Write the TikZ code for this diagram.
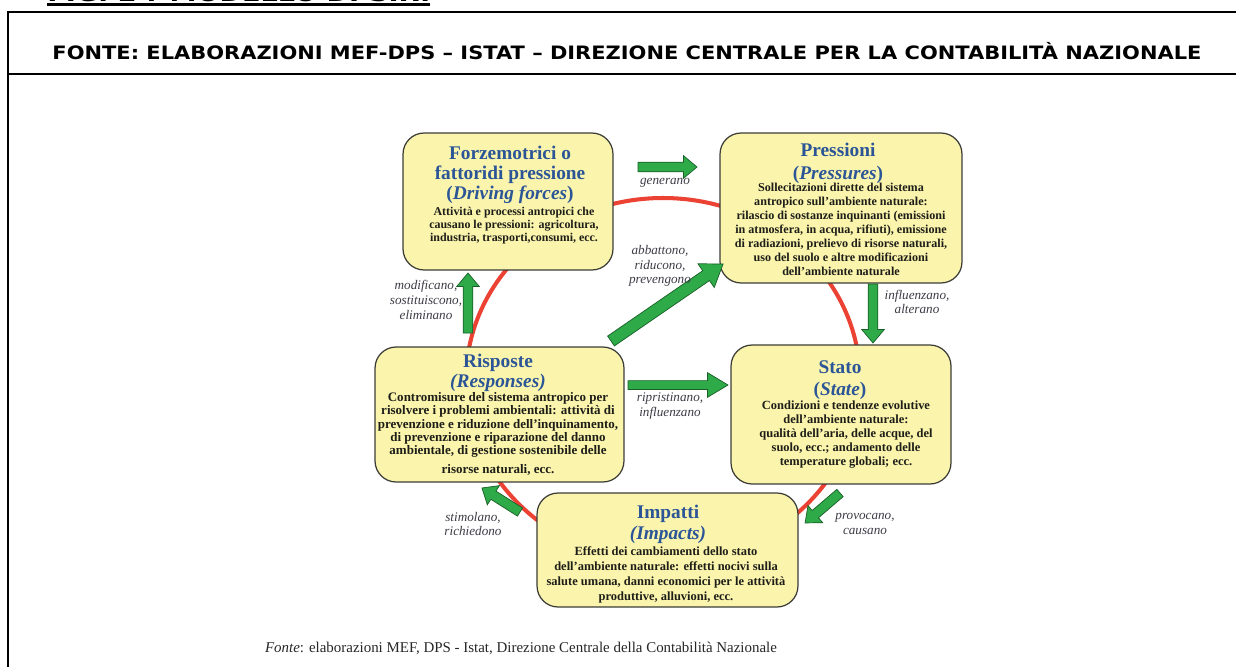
\documentclass[tikz,border=0pt]{standalone}
\usepackage{fontspec}
\setmainfont{Liberation Serif}
\newfontfamily\headfont{DejaVu Sans}
\usetikzlibrary{shapes.arrows}

\definecolor{boxfill}{RGB}{250,244,172}
\definecolor{boxedge}{RGB}{60,60,55}
\definecolor{titleblue}{RGB}{43,85,151}
\definecolor{ringred}{RGB}{236,66,52}
\definecolor{arrowgreen}{RGB}{46,170,72}
\definecolor{arrowedge}{RGB}{25,95,40}
\definecolor{labelgray}{RGB}{60,60,70}
\definecolor{bodyink}{RGB}{30,30,25}

\tikzset{
  stagebox/.style={draw=boxedge, fill=boxfill, line width=0.7pt,
    rounded corners=12pt, inner sep=0pt},
  stagetitle/.style={inner sep=0pt, align=center, anchor=north,
    text=titleblue, font=\bfseries\fontsize{11pt}{#1}\selectfont},
  stagebody/.style 2 args={inner sep=0pt, align=center, anchor=north,
    text=bodyink, font=\bfseries\fontsize{#1}{#2}\selectfont},
  verb/.style={inner sep=0pt, align=center, text=labelgray,
    font=\itshape\fontsize{7.5pt}{8.3pt}\selectfont},
  flowarrow/.style={single arrow, draw=arrowedge, fill=arrowgreen,
    line width=0.4pt, inner xsep=0pt, inner ysep=2.55pt, outer sep=0pt,
    single arrow head extend=3.7pt, single arrow tip angle=80, anchor=tail},
  ring/.style={draw=ringred, line width=2.3pt},
  frame/.style={draw=black, line width=1.2pt},
}

\begin{document}
\begin{tikzpicture}[x=0.02cm, y=-0.02cm]
\useasboundingbox (0,0) rectangle (1236,666);
\clip (0,0) rectangle (1236,666);
\fill[white] (0,0) rectangle (1236,666);

% page heading, mostly above the visible area
\node[anchor=base west, inner sep=0pt,
  font=\headfont\bfseries\fontsize{13pt}{13pt}\selectfont] (figtitle) at (47,1.5)
  {\resizebox{218pt}{\height}{FIG. 2 : MODELLO DPSIR.}};
\draw[frame] (47,4.5) -- (430,4.5);

% table frame
\draw[frame] (8,670) -- (8,12) -- (1240,12);
\draw[frame] (8,74) -- (1240,74);
\node[font=\headfont\bfseries\fontsize{10.5pt}{11pt}\selectfont, inner sep=0pt,
  anchor=base] (source) at (627,59)
  {\resizebox{654pt}{\height}{FONTE: ELABORAZIONI MEF-DPS – ISTAT – DIREZIONE CENTRALE PER LA CONTABILITÀ NAZIONALE}};

% cycle ring behind the stages
\draw[ring] (663,380) ellipse [x radius=197, y radius=182];

% stage boxes
\node[stagebox, minimum width=4.2cm, minimum height=2.74cm] (drv) at (508,201.5) {};
\node[stagebox, minimum width=4.84cm, minimum height=3.0cm] (prs) at (841,208) {};
\node[stagebox, minimum width=4.98cm, minimum height=2.7cm] (rsp) at (499.5,414.5) {};
\node[stagebox, minimum width=4.4cm, minimum height=2.78cm] (sta) at (841,414.5) {};
\node[stagebox, minimum width=5.22cm, minimum height=2.28cm] (imp) at (667.5,550) {};

% stage texts
\node[stagetitle=11.4pt] (drvT) at (510,146)
  {Forzemotrici o\\fattoridi pressione\\(\textit{Driving forces})};
\node[stagebody={6.8pt}{7.5pt}] (drvB) at (514,206.5)
  {Attività e processi antropici che\\causano le pressioni: agricoltura,\\industria, trasporti,consumi, ecc.};

\node[stagetitle=13pt] (prsT) at (838,143)
  {Pressioni\\(\textit{Pressures})};
\node[stagebody={6.9pt}{7.97pt}] (prsB) at (841,182.7)
  {Sollecitazioni dirette del sistema\\antropico sull’ambiente naturale:\\rilascio di sostanze inquinanti (emissioni\\in atmosfera, in acqua, rifiuti), emissione\\di radiazioni, prelievo di risorse naturali,\\uso del suolo e altre modificazioni\\dell’ambiente naturale};

\node[stagetitle=9.1pt] (rspT) at (498,354)
  {Risposte\\\textit{(Responses)}};
\node[stagebody={7.4pt}{7.6pt}] (rspB) at (498,392)
  {Contromisure del sistema antropico per\\risolvere i problemi ambientali: attività di\\prevenzione e riduzione dell’inquinamento,\\di prevenzione e riparazione del danno\\ambientale, di gestione sostenibile delle\\[3pt]risorse naturali, ecc.};

\node[stagetitle=13pt] (staT) at (840,360)
  {Stato\\(\textit{State})};
\node[stagebody={7.1pt}{7.97pt}] (staB) at (846,400.5)
  {Condizioni e tendenze evolutive\\dell’ambiente naturale:\\qualità dell’aria, delle acque, del\\suolo, ecc.; andamento delle\\temperature globali; ecc.};

\node[stagetitle=12pt] (impT) at (668,505)
  {Impatti\\\textit{(Impacts)}};
\node[stagebody={7.1pt}{8.5pt}] (impB) at (666,546.4)
  {Effetti dei cambiamenti dello stato\\dell’ambiente naturale: effetti nocivi sulla\\salute umana, danni economici per le attività\\produttive, alluvioni, ecc.};

% causal arrows between stages
\node[flowarrow, minimum height=1.18cm, rotate=0] (a1) at (638,167) {};
\node[flowarrow, minimum height=2.72cm, rotate=34.5, inner ysep=3.2pt,
  single arrow head extend=4.8pt, single arrow tip angle=70] (a2) at (611,341) {};
\node[flowarrow, minimum height=1.2cm, rotate=90] (a3) at (468,333) {};
\node[flowarrow, minimum height=1.18cm, rotate=-90] (a4) at (873,284) {};
\node[flowarrow, minimum height=2.0cm, rotate=0, inner ysep=2.3pt,
  single arrow head extend=4.5pt, single arrow tip angle=62] (a5) at (628,385) {};
\node[flowarrow, minimum height=0.9cm, rotate=147.7] (a6) at (520,512) {};
\node[flowarrow, minimum height=0.92cm, rotate=-139.4] (a7) at (840,493) {};

% arrow captions
\node[verb] (l1) at (665,183) {generano};
\node[verb] (l2) at (660,266) {abbattono,\\riducono,\\prevengono};
\node[verb] (l3) at (426,300) {modificano,\\sostituiscono,\\eliminano};
\node[verb] (l4) at (917,302) {influenzano,\\alterano};
\node[verb] (l5) at (670,406) {ripristinano,\\influenzano};
\node[verb] (l6) at (473,524) {stimolano,\\richiedono};
\node[verb] (l7) at (865,524) {provocano,\\causano};

% source line
\node[inner sep=0pt, font=\fontsize{8.5pt}{9pt}\selectfont, text=black!85] (fonte) at (521,648)
  {\textit{Fonte}: elaborazioni MEF, DPS - Istat, Direzione Centrale della Contabilità Nazionale};
\end{tikzpicture}
\end{document}
